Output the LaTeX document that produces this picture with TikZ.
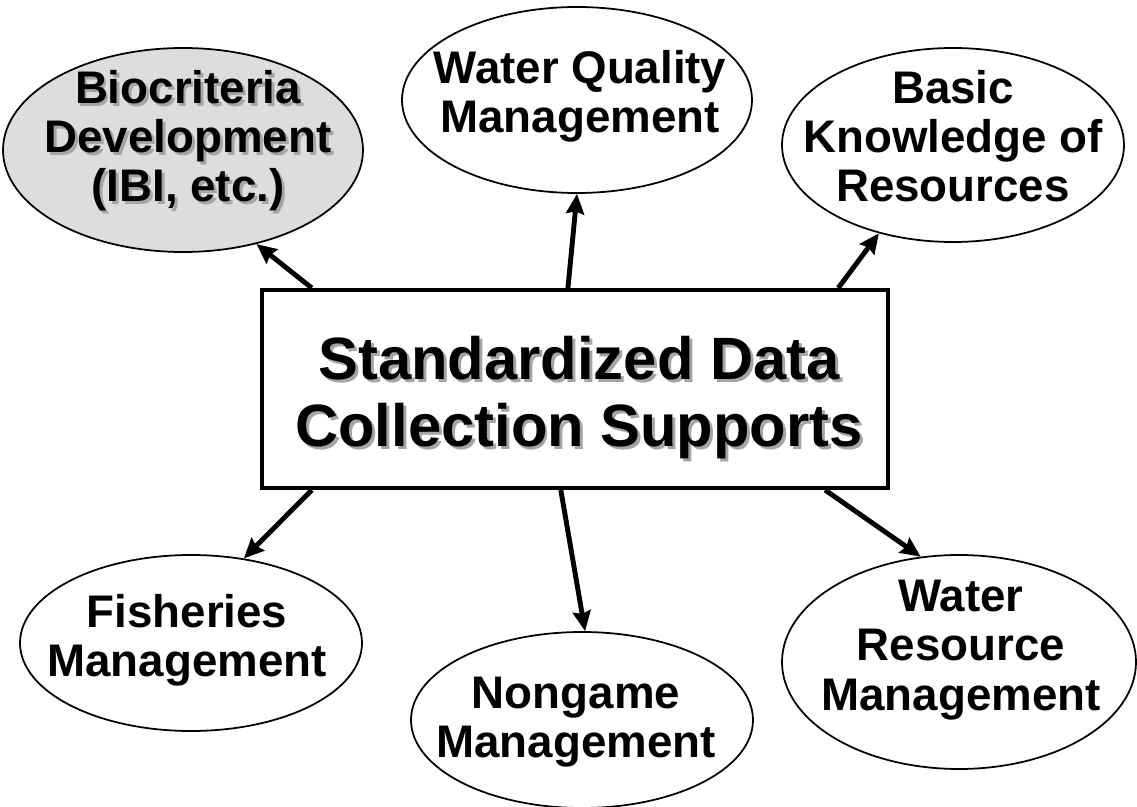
\documentclass[tikz,border=0pt]{standalone}
\usepackage{fontspec}
\setmainfont{Liberation Sans}
\usetikzlibrary{shapes.geometric,arrows.meta}
\definecolor{grisclair}{RGB}{221,221,221}
\definecolor{grisombre}{RGB}{165,165,165}
\newcommand{\txtombre}[1]{\rlap{\kern1.7pt\raisebox{-1.7pt}{\textcolor{grisombre}{#1}}}#1}

\begin{document}
\begin{tikzpicture}[
        bulle/.style={ellipse, draw, line width=1pt, inner sep=0pt},
        texte/.style={align=center, font=\bfseries\fontsize{26}{28}\selectfont},
        fleche/.style={-{Stealth[length=0.4cm,width=0.36cm,inset=0.05cm]}, line width=2.8pt}
    ]
        \useasboundingbox (0,0) rectangle (22.74,-16.14);

        % Le cadre central
        \node (cadre) [draw, line width=2.3pt, minimum width=12.52cm, minimum height=3.96cm] at (11.5,-7.78) {};
        \node (cadre-t) [align=center, font=\bfseries\fontsize{34}{38}\selectfont] at (11.58,-7.98)
            {\txtombre{Standardized Data}\\\txtombre{Collection Supports}};

        % Les ellipses
        \node (bio) [bulle, fill=grisclair, minimum width=7.2cm, minimum height=4.08cm] at (3.66,-3.0) {};
        \node (wq) [bulle, minimum width=7.0cm, minimum height=3.72cm] at (11.54,-2.0) {};
        \node (basic) [bulle, minimum width=6.84cm, minimum height=3.88cm] at (19.06,-2.9) {};
        \node (fish) [bulle, minimum width=6.84cm, minimum height=3.52cm] at (3.82,-12.86) {};
        \node (nongame) [bulle, minimum width=6.84cm, minimum height=3.52cm] at (11.64,-14.4) {};
        \node (wr) [bulle, minimum width=7.08cm, minimum height=4.28cm] at (19.18,-13.24) {};

        % Les textes
        \node (bio-t) [texte] at (3.76,-2.84) {\txtombre{Biocriteria}\\\txtombre{Development}\\\txtombre{(IBI, etc.)}};
        \node (wq-t) [texte] at (11.6,-1.92) {Water Quality\\Management};
        \node (basic-t) [texte] at (19.06,-2.72) {Basic\\Knowledge of\\Resources};
        \node (fish-t) [texte] at (3.74,-12.8) {Fisheries\\Management};
        \node (nongame-t) [texte] at (11.52,-14.44) {Nongame\\Management};
        \node (wr-t) [texte] at (19.22,-13.0) {Water\\Resource\\Management};

        % Les fleches
        \draw [fleche] (cadre.159.9) -- (bio.-52.3);
        \draw [fleche] (cadre.94.6) -- (wq.-90);
        \draw [fleche] (cadre.21.1) -- (basic.-130.4);
        \draw [fleche] (cadre.-159.3) -- (fish.58.1);
        \draw [fleche] (cadre.-98.6) -- (nongame.88);
        \draw [fleche] (cadre.-22.7) -- (wr.110.6);
    \end{tikzpicture}
\end{document}
